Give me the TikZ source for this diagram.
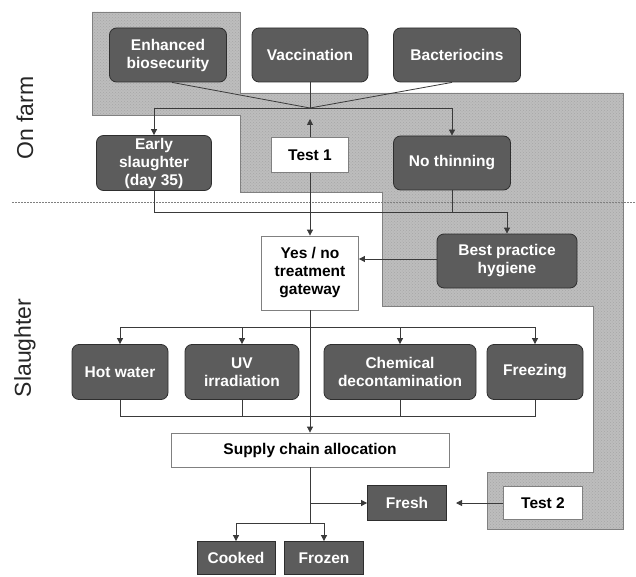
\documentclass[tikz,border=0pt]{standalone}
\usepackage{fontspec}
\setmainfont{Liberation Sans}
\usetikzlibrary{arrows.meta, positioning, patterns}

\definecolor{boxgray}{HTML}{5C5C5C}
\definecolor{boxedge}{HTML}{2E2E2E}
\definecolor{edgegray}{HTML}{808080}
\definecolor{linegray}{HTML}{3A3A3A}
\definecolor{zonegray}{HTML}{BDBDBD}

\begin{document}
\begin{tikzpicture}[x=1pt, y=-1pt,
      act/.style={rectangle, draw=boxedge, fill=boxgray, thick, rounded corners=7pt, text=white, align=center, inner sep=0pt, font=\bfseries\fontsize{15.5}{18}\selectfont},
      outcome/.style={act, rounded corners=0pt},
      test/.style={rectangle, draw=edgegray, fill=white, thick, align=center, inner sep=0pt, font=\bfseries\fontsize{15.5}{18}\selectfont},
      link/.style={draw=linegray, line width=0.8pt},
      arrow/.style={link, -{Triangle[length=6pt, width=6pt]}},
      stage/.style={rotate=90, text=black!85, font=\fontsize{23}{26}\selectfont}
    ]
    \useasboundingbox (0,0) rectangle (636,577);

    % intervention zone
    \fill[zonegray] (92,12) -- (240,12) -- (240,93) -- (623,93) -- (623,529) -- (487,529) -- (487,472) -- (593,472) -- (593,306) -- (382,306) -- (382,192) -- (240,192) -- (240,115) -- (92,115) -- cycle;
    \fill[pattern=crosshatch dots, pattern color=black!35] (92,12) -- (240,12) -- (240,93) -- (623,93) -- (623,529) -- (487,529) -- (487,472) -- (593,472) -- (593,306) -- (382,306) -- (382,192) -- (240,192) -- (240,115) -- (92,115) -- cycle;
    \draw[edgegray, thick] (92,12) -- (240,12) -- (240,93) -- (623,93) -- (623,529) -- (487,529) -- (487,472) -- (593,472) -- (593,306) -- (382,306) -- (382,192) -- (240,192) -- (240,115) -- (92,115) -- cycle;

    \draw[edgegray, line width=0.8pt, dash pattern=on 1.5pt off 1.5pt] (12,202) -- (636,202);

    \node[stage] (farm) at (25,118) {On farm};
    \node[stage] (slaughter) at (25,348) {Slaughter};

    % on farm
    \node[act, minimum width=117pt, minimum height=54pt] (bio) at (168,55) {Enhanced\\biosecurity};
    \node[act, minimum width=116pt, minimum height=54pt] (vacc) at (310,55) {Vaccination};
    \node[act, minimum width=127pt, minimum height=54pt] (bact) at (457,55) {Bacteriocins};
    \node[act, minimum width=115pt, minimum height=55pt] (early) at (154,163) {Early\\slaughter\\(day 35)};
    \node[test, minimum width=77pt, minimum height=35pt] (test1) at (310,155) {Test 1};
    \node[act, minimum width=117pt, minimum height=54pt] (nothin) at (452,163) {No thinning};

    % slaughter
    \node[test, minimum width=97pt, minimum height=74pt] (gate) at (310,273) {Yes / no\\treatment\\gateway};
    \node[act, minimum width=140pt, minimum height=54pt] (hyg) at (507,261) {Best practice\\hygiene};
    \node[act, minimum width=96pt, minimum height=55pt] (hot) at (120,372) {Hot water};
    \node[act, minimum width=114pt, minimum height=55pt] (uv) at (242,372) {UV\\irradiation};
    \node[act, minimum width=152pt, minimum height=55pt] (chem) at (400,372) {Chemical\\decontamination};
    \node[act, minimum width=96pt, minimum height=55pt] (freez) at (535,372) {Freezing};
    \node[test, minimum width=278pt, minimum height=34pt] (supply) at (310,450) {Supply chain allocation};
    \node[outcome, minimum width=79pt, minimum height=35pt] (fresh) at (407,503) {Fresh};
    \node[test, minimum width=79pt, minimum height=33pt] (test2) at (543,503) {Test 2};
    \node[outcome, minimum width=78pt, minimum height=33pt] (cooked) at (236,558) {Cooked};
    \node[outcome, minimum width=79pt, minimum height=33pt] (frozen) at (324,558) {Frozen};

    \coordinate (join) at (310,108);
    \coordinate (t1tip) at (310,119);
    \coordinate (meet) at (507,212);
    \coordinate (split) at (310,327);
    \coordinate (merge) at (310,416);
    \coordinate (fork) at (310,523);
    \coordinate (t2tip) at (456,503);

    \draw[link] ([xshift=4pt]bio.south) -- (join);
    \draw[link] (vacc.south) -- (join);
    \draw[link] ([xshift=-5pt]bact.south) -- (join);
    \draw[arrow] (join) -| (early.north);
    \draw[arrow] (join) -| (nothin.north);
    \draw[arrow] (test1.north) -- (t1tip);
    \draw[arrow] (test1.south) -- (gate.north);

    \draw[arrow] (early.south) |- (meet) -- (hyg.north);
    \draw[link] (nothin.south) -- (nothin.south |- meet);
    \draw[arrow] ([yshift=2pt]hyg.west) -- ([yshift=2pt]gate.east |- hyg.west);

    \foreach \t in {hot, uv, chem, freez} {
      \draw[arrow] (split) -| (\t.north);
      \draw[link] (\t.south) |- (merge);
    }
    \draw[arrow] (gate.south) -- (supply.north);

    \draw[link] (supply.south) -- (fork);
    \draw[arrow] (supply.south |- fresh.west) -- (fresh.west);
    \draw[arrow] (fork) -| (cooked.north);
    \draw[arrow] (fork) -| (frozen.north);
    \draw[arrow] (test2.west) -- (t2tip);
  \end{tikzpicture}
\end{document}
